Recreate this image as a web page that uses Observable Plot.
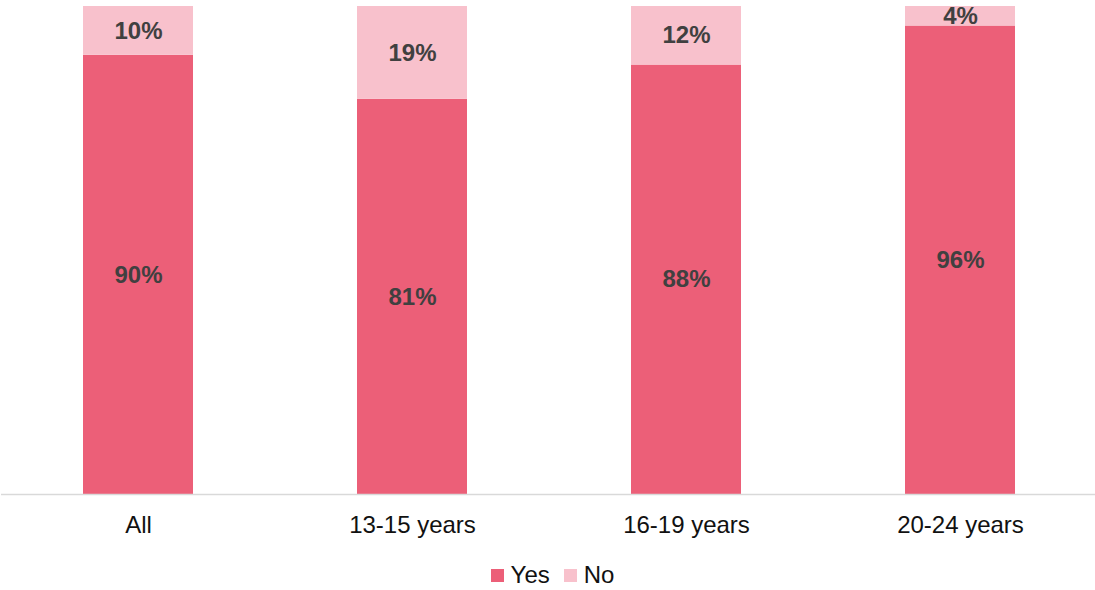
<!DOCTYPE html>
<html>
<head>
<meta charset="utf-8">
<script src="https://cdn.jsdelivr.net/npm/d3@7"></script>
<script src="https://cdn.jsdelivr.net/npm/@observablehq/plot@0.6"></script>
<style>
  body { margin: 0; background: #fff; font-family: "Liberation Sans", Arial, sans-serif; }
  #legend { display: flex; justify-content: center; align-items: center; height: 24px; padding-top: 18px; padding-left: 10px; font-size: 24px; color: #111; }
  .item { display: flex; align-items: center; margin: 0 7px; }
  .sw { width: 13px; height: 13px; margin-right: 7px; }
</style>
</head>
<body>
<div id="chart"></div>
<div id="legend"></div>
<script>
const categories = ["All", "13-15 years", "16-19 years", "20-24 years"];
const series = ["Yes", "No"];
const yesValues = [90, 81, 88, 96];
const noValues = [10, 19, 12, 4];
const colors = ["#EC5F78", "#F8C1CC"];

const data = [];
categories.forEach((c, i) => {
  data.push({category: c, series: "Yes", value: yesValues[i]});
  data.push({category: c, series: "No", value: noValues[i]});
});

const plot = Plot.plot({
  width: 1095,
  height: 545,
  marginTop: 6,
  marginBottom: 51,
  marginLeft: 1,
  marginRight: 0,
  style: {fontFamily: "'Liberation Sans', Arial, sans-serif", background: "#fff"},
  x: {domain: categories, range: [1, 1097], paddingInner: 0.6, paddingOuter: 0.3, label: null},
  y: {domain: [0, 100], axis: null},
  color: {domain: series, range: colors},
  marks: [
    Plot.barY(data, Plot.stackY({x: "category", y: "value", z: "series", fill: "series"})),
    Plot.ruleY([0], {stroke: "#D9D9D9", strokeWidth: 1.5}),
    Plot.text(data, Plot.stackY({x: "category", y: "value", z: "series", text: d => d.value + "%", fill: "#404040", fontWeight: "bold", fontSize: 24})),
    Plot.axisX({tickSize: 0, tickPadding: 21, fontSize: 24, color: "#111", label: null})
  ]
});
document.getElementById("chart").appendChild(plot);

const legend = document.getElementById("legend");
series.forEach((s, i) => {
  const item = document.createElement("div");
  item.className = "item";
  const sw = document.createElement("div");
  sw.className = "sw";
  sw.style.background = colors[i];
  const t = document.createElement("span");
  t.textContent = s;
  item.appendChild(sw);
  item.appendChild(t);
  legend.appendChild(item);
});
</script>
</body>
</html>
